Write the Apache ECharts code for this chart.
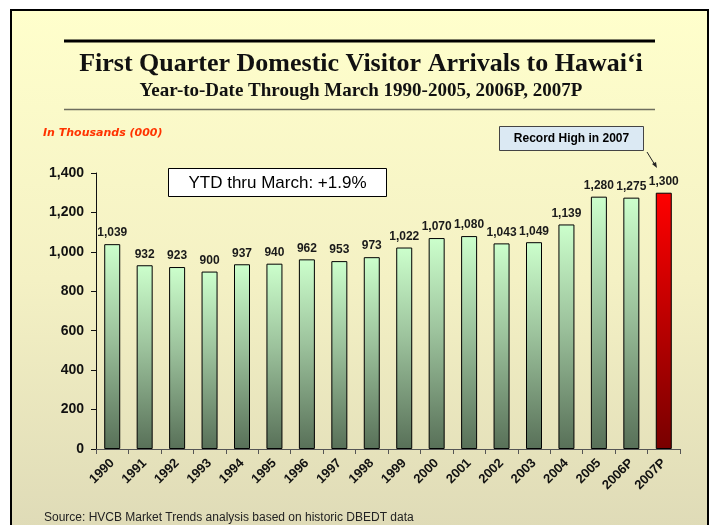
<!DOCTYPE html>
<html>
<head>
<meta charset="utf-8">
<script src="https://cdn.jsdelivr.net/npm/echarts@6/dist/echarts.min.js"></script>
<style>
  html, body { margin: 0; padding: 0; background: #fff; }
  #chart { width: 712px; height: 525px; }
</style>
</head>
<body>
<div id="chart"></div>
<script>
var years = ['1990', '1991', '1992', '1993', '1994', '1995', '1996', '1997', '1998',
  '1999', '2000', '2001', '2002', '2003', '2004', '2005', '2006P', '2007P']
var arrivals = [1039, 932, 923, 900, 937, 940, 962, 953, 973,
  1022, 1070, 1080, 1043, 1049, 1139, 1280, 1275, 1300]
var yTicks = [0, 200, 400, 600, 800, 1000, 1200, 1400]

var titleText = 'First Quarter Domestic Visitor Arrivals to Hawai\u2018i'
var subText = 'Year-to-Date Through March 1990-2005, 2006P, 2007P'
var unitText = 'In Thousands (000)'
var ytdText = 'YTD thru March: +1.9%'
var recordText = 'Record High in 2007'
var sourceText = 'Source: HVCB Market Trends analysis based on historic DBEDT data'

var greenFill = new echarts.graphic.LinearGradient(0, 0, 0, 1, [
  { offset: 0, color: '#ccffcc' },
  { offset: 0.45, color: '#9cc29c' },
  { offset: 1, color: '#587058' }
])
var redFill = new echarts.graphic.LinearGradient(0, 0, 0, 1, [
  { offset: 0, color: '#ff0000' },
  { offset: 1, color: '#780000' }
])

var barData = arrivals.map(function (v, i) {
  return {
    value: v,
    itemStyle: { color: i === arrivals.length - 1 ? redFill : greenFill }
  }
})

var chart = echarts.init(document.getElementById('chart'), null, { renderer: 'canvas' })

var option = {
  backgroundColor: '#ffffff',
  animation: false,
  graphic: [
    {
      type: 'rect',
      z: -10,
      shape: { x: 11, y: 10, width: 697, height: 540 },
      style: {
        fill: new echarts.graphic.LinearGradient(0, 0, 0, 1, [
          { offset: 0, color: '#ffffcc' },
          { offset: 0.5, color: '#f4f1c4' },
          { offset: 1, color: '#ddd9b6' }
        ]),
        stroke: '#000',
        lineWidth: 2
      }
    },
    {
      type: 'line',
      z: 10,
      shape: { x1: 64, y1: 41, x2: 655, y2: 41 },
      style: { stroke: '#000', lineWidth: 3 }
    },
    {
      type: 'line',
      z: 10,
      shape: { x1: 64, y1: 109.5, x2: 655, y2: 109.5 },
      style: { stroke: '#6e6e5e', lineWidth: 1.5 }
    },
    {
      type: 'text',
      z: 10,
      style: {
        x: 361, y: 64, text: titleText, align: 'center', verticalAlign: 'middle',
        font: 'bold 26px "Liberation Serif", "DejaVu Serif", serif', fill: '#111'
      }
    },
    {
      type: 'text',
      z: 10,
      style: {
        x: 361, y: 91, text: subText, align: 'center', verticalAlign: 'middle',
        font: 'bold 19px "Liberation Serif", "DejaVu Serif", serif', fill: '#111'
      }
    },
    {
      type: 'text',
      z: 10,
      style: {
        x: 43, y: 133, text: unitText, align: 'left', verticalAlign: 'middle',
        font: 'italic bold 11px "DejaVu Sans", sans-serif', fill: '#ff3300'
      }
    },
    {
      type: 'rect',
      z: 10,
      shape: { x: 168.5, y: 168.5, width: 218, height: 28 },
      style: { fill: '#fff', stroke: '#000', lineWidth: 1 }
    },
    {
      type: 'text',
      z: 11,
      style: {
        x: 277.5, y: 183, text: ytdText, align: 'center', verticalAlign: 'middle',
        font: '17px "Liberation Sans", Arial, sans-serif', fill: '#000'
      }
    },
    {
      type: 'rect',
      z: 10,
      shape: { x: 499.5, y: 126.5, width: 144, height: 24 },
      style: { fill: '#dbe9f3', stroke: '#444', lineWidth: 1 }
    },
    {
      type: 'text',
      z: 11,
      style: {
        x: 571.5, y: 139, text: recordText, align: 'center', verticalAlign: 'middle',
        font: 'bold 12px "Liberation Sans", Arial, sans-serif', fill: '#000'
      }
    },
    {
      type: 'line',
      z: 10,
      shape: { x1: 647, y1: 152, x2: 655, y2: 165 },
      style: { stroke: '#222', lineWidth: 1 }
    },
    {
      type: 'polygon',
      z: 10,
      shape: { points: [[657, 168], [652, 164], [656, 162]] },
      style: { fill: '#222' }
    },
    {
      type: 'text',
      z: 10,
      style: {
        x: 44, y: 518, text: sourceText, align: 'left', verticalAlign: 'middle',
        font: '12px "Liberation Sans", Arial, sans-serif', fill: '#222'
      }
    }
  ],
  grid: {
    left: 96,
    right: 32,
    top: 173,
    bottom: 76,
    containLabel: false
  },
  xAxis: {
    type: 'category',
    data: years,
    boundaryGap: true,
    axisLine: { show: true, lineStyle: { color: '#555', width: 1 } },
    axisTick: { show: true, inside: false, length: 5, lineStyle: { color: '#555' } },
    axisLabel: {
      interval: 0,
      rotate: 45,
      margin: 12,
      color: '#111',
      fontWeight: 'bold',
      fontSize: 13,
      fontFamily: '"Liberation Sans", Arial, sans-serif'
    },
    splitLine: { show: false }
  },
  yAxis: {
    type: 'value',
    min: yTicks[0],
    max: yTicks[yTicks.length - 1],
    interval: yTicks[1] - yTicks[0],
    axisLine: { show: true, lineStyle: { color: '#111', width: 1 } },
    axisTick: { show: true, inside: false, length: 5, lineStyle: { color: '#111' } },
    axisLabel: {
      margin: 12,
      color: '#111',
      fontWeight: 'bold',
      fontSize: 14,
      fontFamily: '"Liberation Sans", Arial, sans-serif',
      formatter: function (v) { return v.toLocaleString('en-US') }
    },
    splitLine: { show: false }
  },
  series: [{
    type: 'bar',
    data: barData,
    barWidth: 16,
    itemStyle: { borderColor: '#000', borderWidth: 1 },
    label: {
      show: true,
      position: 'top',
      distance: 5,
      color: '#1a1a1a',
      fontWeight: 'bold',
      fontSize: 12,
      fontFamily: '"Liberation Sans", Arial, sans-serif',
      formatter: function (p) { return p.value.toLocaleString('en-US') }
    }
  }]
}

chart.setOption(option)
</script>
</body>
</html>
